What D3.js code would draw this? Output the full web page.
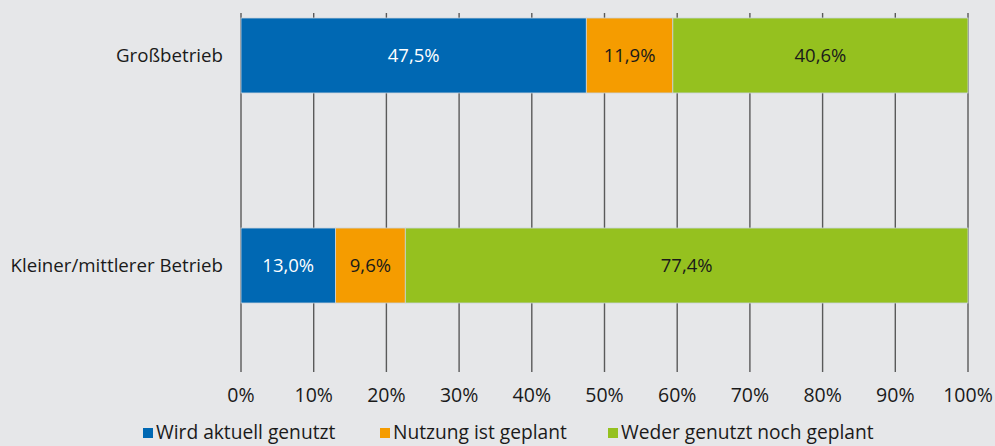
<!DOCTYPE html>
<html>
<head>
<meta charset="utf-8">
<script src="https://cdn.jsdelivr.net/npm/d3@7"></script>
<style>
  html, body { margin: 0; padding: 0; background: #e6e7e9; }
  svg { display: block; font-family: "Open Sans", "Noto Sans", sans-serif; }
</style>
</head>
<body>
<div id="chart"></div>
<script>
// data
const categories = ["Großbetrieb", "Kleiner/mittlerer Betrieb"];
const seriesNames = ["Wird aktuell genutzt", "Nutzung ist geplant", "Weder genutzt noch geplant"];
const wirdGenutzt = [47.5, 13.0];
const geplant = [11.9, 9.6];
const weder = [40.6, 77.4];
const xTicks = [0, 10, 20, 30, 40, 50, 60, 70, 80, 90, 100];

const colors = ["#0068b3", "#f59c00", "#95c11f"];
const labelColors = ["#fff", "#1a1a1a", "#1a1a1a"];

const width = 995, height = 446;
const svg = d3.select("#chart").append("svg")
  .attr("width", width)
  .attr("height", height);

svg.append("rect").attr("width", width).attr("height", height).attr("fill", "#e6e7e9");

const x = d3.scaleLinear().domain([0, 100]).range([241, 968]);
const y = d3.scaleBand().domain(categories).range([18, 303]).paddingInner(0.643).paddingOuter(0);

// gridlines
svg.append("g")
  .selectAll("line")
  .data(xTicks)
  .join("line")
  .attr("x1", d => x(d)).attr("x2", d => x(d))
  .attr("y1", 13).attr("y2", 372)
  .attr("stroke", "#5a5a5a").attr("stroke-width", 1.4);

// stacked data
const rows = categories.map((c, i) => ({ cat: c, s0: wirdGenutzt[i], s1: geplant[i], s2: weder[i] }));
const stack = d3.stack().keys(["s0", "s1", "s2"])(rows);

const layers = svg.append("g").selectAll("g")
  .data(stack)
  .join("g")
  .attr("fill", (d, i) => colors[i]);

layers.selectAll("rect")
  .data(d => d)
  .join("rect")
  .attr("x", d => x(d[0]))
  .attr("width", d => x(d[1]) - x(d[0]))
  .attr("y", d => y(d.data.cat))
  .attr("height", y.bandwidth())
  .attr("stroke", "#c9d3dc")
  .attr("stroke-width", 0.8);

layers.each(function(layer, li) {
  d3.select(this).selectAll("text")
    .data(layer)
    .join("text")
    .attr("x", d => (x(d[0]) + x(d[1])) / 2)
    .attr("y", d => y(d.data.cat) + y.bandwidth() / 2)
    .attr("dy", "0.35em")
    .attr("text-anchor", "middle")
    .attr("font-size", 18.5)
    .attr("fill", labelColors[li])
    .text(d => (d[1] - d[0]).toFixed(1).replace(".", ",") + "%");
});

// category labels
svg.append("g").selectAll("text")
  .data(categories)
  .join("text")
  .attr("x", 223)
  .attr("y", d => y(d) + y.bandwidth() / 2)
  .attr("dy", "0.35em")
  .attr("text-anchor", "end")
  .attr("font-size", 18.7)
  .attr("fill", "#1a1a1a")
  .text(d => d);

// x axis labels
svg.append("g").selectAll("text")
  .data(xTicks)
  .join("text")
  .attr("x", d => x(d))
  .attr("y", 395)
  .attr("dy", "0.35em")
  .attr("text-anchor", "middle")
  .attr("font-size", 19.5)
  .attr("fill", "#1a1a1a")
  .text(d => d + "%");

// legend
const legendX = [143, 380, 608];
const legend = svg.append("g").selectAll("g")
  .data(seriesNames)
  .join("g")
  .attr("transform", (d, i) => `translate(${legendX[i]},432)`);
legend.append("rect")
  .attr("x", 0).attr("y", -4).attr("width", 10).attr("height", 10)
  .attr("fill", (d, i) => colors[i]);
legend.append("text")
  .attr("x", 13).attr("dy", "0.35em")
  .attr("font-size", 19.2)
  .attr("fill", "#1a1a1a")
  .text(d => d);
</script>
</body>
</html>
